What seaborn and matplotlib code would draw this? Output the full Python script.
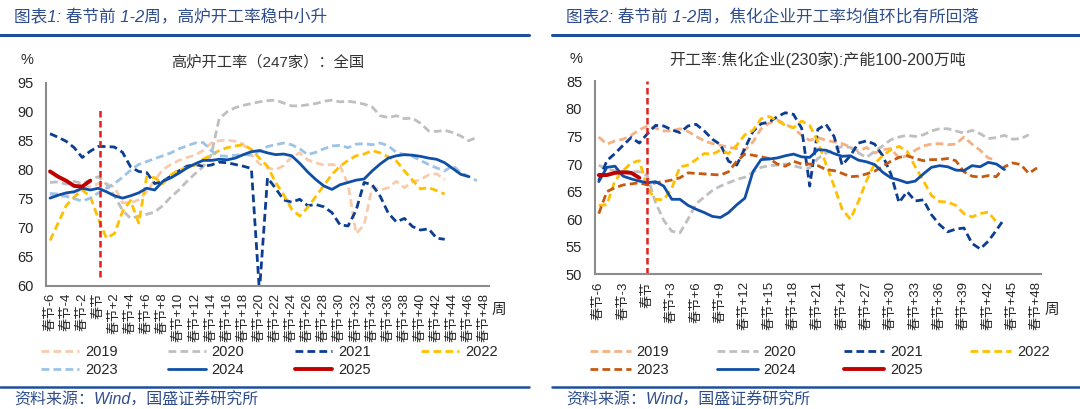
import numpy as np
import pandas as pd
import matplotlib
matplotlib.use("Agg")
import matplotlib.pyplot as plt
from matplotlib.lines import Line2D
import seaborn as sns

# ---------------- data ----------------
years = ["2019", "2020", "2021", "2022", "2023", "2024", "2025"]
first_week = -6

# 高炉开工率（247家）：全国, week -6 .. end
bf_2019 = [75.8, 75.2, 75.5, 76.1, 76.6, 77.1, 77.6, 77.6, 77.0, 74.3, 74.3, 74.8, 76.2, 78.2, 80.0,
           80.9, 81.6, 82.1, 82.5, 83.3, 84.6, 85.0, 85.1, 84.9, 84.4, 82.6, 81.0, 80.3, 80.0, 80.7,
           82.2, 82.9, 81.7, 81.2, 80.8, 80.9, 80.7, 77.5, 69.0, 70.5, 77.0, 76.5, 76.9, 78.0, 76.9,
           77.9, 78.3, 79.1, 79.3, 78.3]
bf_2020 = [77.8, 77.9, 77.5, 78.0, 77.6, 78.2, 78.8, 77.5, 75.5, 73.0, 71.6, 72.0, 72.3, 72.7, 73.8,
           75.3, 76.5, 78.0, 79.3, 80.5, 82.5, 88.8, 90.0, 90.7, 91.1, 91.4, 91.7, 91.9, 92.0, 91.5,
           91.0, 91.0, 91.2, 91.4, 91.8, 92.0, 91.7, 91.8, 91.6, 91.3, 90.8, 89.3, 89.0, 89.3, 88.8,
           88.9, 88.0, 86.7, 86.6, 86.8, 86.4, 85.8, 85.0, 85.6]
bf_2021 = [86.2, 85.6, 84.9, 83.8, 82.1, 83.2, 84.0, 84.0, 83.9, 83.0, 80.5, 79.7, 79.5, 77.6, 78.0,
           78.9, 79.8, 80.6, 80.9, 80.6, 80.8, 81.3, 81.2, 80.9, 80.6, 80.2, 59.0, 78.6, 76.8, 74.8,
           74.4, 74.9, 73.8, 74.0, 73.6, 72.6, 70.5, 70.3, 73.0, 77.8, 77.4, 75.4, 72.5, 71.0, 71.6,
           70.2, 69.6, 69.8, 68.2, 68.0]
bf_2022 = [67.8, 70.8, 73.8, 75.3, 76.5, 75.4, 71.5, 68.2, 69.0, 72.8, 74.7, 70.8, 78.8, 78.6, 77.6,
           79.1, 80.0, 80.3, 80.8, 81.8, 82.5, 83.3, 83.8, 84.1, 84.3, 83.5, 82.0, 80.6, 77.8, 75.7,
           73.2, 72.0, 73.5, 75.4, 77.3, 79.2, 80.6, 81.6, 82.4, 82.7, 83.3, 82.9, 82.2, 81.5, 79.8,
           78.2, 76.7, 76.9, 76.4, 75.8]
bf_2023 = [75.9, 75.8, 75.4, 75.0, 74.6, 75.1, 76.0, 76.8, 77.6, 78.7, 79.9, 80.9, 81.4, 81.9, 82.4,
           82.9, 83.6, 84.1, 84.6, 84.7, 83.3, 82.4, 82.3, 82.5, 82.6, 82.5, 83.2, 84.0, 84.3, 84.6,
           84.3, 83.6, 82.6, 83.0, 83.6, 84.1, 84.2, 83.8, 84.4, 84.5, 84.3, 84.6, 84.1, 83.0, 82.6,
           82.3, 81.6, 80.9, 80.3, 79.8, 80.7, 79.5, 78.8, 78.1]
bf_2024 = [75.1, 75.6, 76.0, 76.2, 76.8, 76.5, 76.8, 76.2, 75.5, 75.1, 75.5, 76.0, 76.8, 76.5, 78.0,
           78.6, 79.4, 80.3, 81.0, 81.6, 81.6, 81.8, 81.7, 82.0, 82.6, 83.1, 83.3, 82.9, 82.6, 82.7,
           82.4, 81.1, 79.6, 78.3, 77.2, 76.6, 77.4, 77.8, 78.2, 78.4, 79.8, 81.0, 82.0, 82.4, 82.6,
           82.5, 82.3, 82.0, 81.8, 81.2, 80.2, 79.2, 78.8]
bf_2025 = [79.7, 78.8, 78.1, 77.2, 77.1, 78.1]

# 开工率:焦化企业(230家):产能100-200万吨, week -6 .. end
jh_2019 = [74.9, 73.6, 74.2, 74.5, 75.2, 76.2, 76.9, 76.5, 76.0, 76.0, 76.4, 75.9, 75.0, 74.2, 73.7,
           73.4, 73.0, 72.8, 72.5, 74.0, 76.4, 77.4, 78.0, 77.2, 76.5, 75.2, 74.3, 74.8, 74.3, 74.0,
           73.7, 73.1, 72.3, 73.0, 72.0, 72.6, 72.8, 71.1, 71.5, 72.5, 73.3, 73.6, 73.7, 73.5, 73.6,
           74.9, 73.6, 72.5, 71.1, 70.7]
jh_2020 = [69.8, 69.0, 68.8, 68.7, 68.6, 68.6, 67.8, 63.0, 59.8, 57.8, 57.5, 60.0, 62.8, 64.0, 65.2,
           66.0, 66.6, 67.2, 67.6, 68.5, 69.4, 69.7, 69.8, 70.0, 69.7, 69.3, 69.3, 71.0, 72.0, 72.6,
           73.2, 73.0, 72.0, 71.2, 72.3, 73.3, 74.4, 74.9, 75.2, 75.0, 75.3, 76.0, 76.4, 76.4, 76.0,
           75.6, 76.1, 75.5, 74.6, 74.8, 75.2, 74.5, 74.6, 75.3]
jh_2021 = [67.0, 70.6, 71.9, 73.4, 74.8, 73.8, 75.5, 77.0, 76.9, 76.2, 75.7, 76.9, 77.2, 76.0, 74.5,
           73.5, 70.5, 69.8, 72.8, 75.9, 77.3, 77.6, 78.6, 79.3, 79.0, 76.5, 66.0, 76.3, 77.2, 75.0,
           69.8, 71.5, 73.8, 74.2, 73.6, 71.5, 68.2, 63.0, 65.0, 63.3, 63.5, 60.8, 59.0, 57.7, 58.2,
           58.4, 55.6, 54.6, 56.0, 58.0, 60.1]
jh_2022 = [62.5, 62.6, 67.0, 68.8, 70.2, 70.6, 65.6, 63.6, 63.5, 65.6, 69.5, 69.8, 70.8, 71.9, 71.8,
           72.5, 71.9, 73.4, 75.3, 76.1, 78.2, 78.6, 77.9, 77.0, 76.6, 77.8, 77.0, 74.0, 70.0, 66.0,
           61.8, 60.0, 63.2, 67.0, 70.1, 71.5, 72.6, 73.2, 72.3, 69.5, 67.0, 64.3, 63.2, 63.1, 62.5,
           61.0, 60.4, 61.0, 61.3, 59.5]
jh_2023 = [61.0, 65.0, 65.7, 66.2, 66.4, 66.6, 66.2, 66.6, 66.8, 67.1, 67.5, 68.4, 68.3, 68.2, 68.1,
           68.0, 68.6, 70.5, 71.8, 71.6, 71.3, 71.0, 70.0, 69.6, 70.5, 70.0, 70.0, 69.7, 69.0, 68.8,
           68.3, 67.7, 67.8, 68.2, 68.7, 69.6, 70.5, 71.2, 71.5, 71.0, 70.6, 70.8, 70.8, 71.0, 70.6,
           68.6, 67.8, 67.6, 67.9, 67.7, 69.5, 70.2, 69.9, 68.3, 69.3]
jh_2024 = [66.8, 69.4, 69.6, 67.8, 67.3, 66.9, 66.6, 66.8, 66.0, 63.6, 63.6, 62.5, 61.8, 61.2, 60.5,
           60.3, 61.2, 62.6, 63.8, 68.6, 70.8, 70.9, 71.1, 71.5, 71.8, 71.3, 71.2, 72.6, 72.5, 71.9,
           71.4, 71.5, 70.7, 70.4, 69.9, 68.5, 67.5, 67.1, 66.6, 66.9, 68.2, 69.4, 69.7, 69.5, 68.9,
           68.8, 69.7, 69.5, 70.3, 70.0, 69.0]
jh_2025 = [68.0, 68.0, 68.4, 68.5, 68.4, 67.5]

# 春节 marker line (week, y-range)
spring_left = (0.2, 61.5, 90.8)
spring_right = (0.0, 50.0, 85.0)

left_title = "高炉开工率（247家）：全国"
right_title = "开工率:焦化企业(230家):产能100-200万吨"
left_header = "图表1: 春节前 1-2周，高炉开工率稳中小升"
right_header = "图表2: 春节前 1-2周，焦化企业开工率均值环比有所回落"
source = "资料来源：Wind，国盛证券研究所"

# ---------------- style ----------------
sns.set_theme(style="white")
plt.rcParams["font.family"] = ["Liberation Sans", "Noto Sans CJK SC", "DejaVu Sans"]

DASH = (0, (2.8, 1.5))
left_styles = {
    "2019": ("#f8cbad", DASH, 2.0),
    "2020": ("#bfbfbf", DASH, 2.0),
    "2021": ("#0b3d91", DASH, 2.0),
    "2022": ("#ffc000", DASH, 2.0),
    "2023": ("#9dc3e6", DASH, 2.0),
    "2024": ("#0f4fa8", "-", 2.0),
    "2025": ("#c00000", "-", 2.8),
}
right_styles = dict(left_styles)
right_styles["2019"] = ("#f4b183", DASH, 2.0)
right_styles["2023"] = ("#c55a11", DASH, 2.0)

HEAD_C = "#2e4d8c"
fig = plt.figure(figsize=(10.8, 4.09), dpi=100)
W, H = 1080, 409


def fx(px):
    return px / W


def fy(py):
    return 1 - py / H


def panel(rect, series, styles, yticks, xstep, title, title_fs, spring, pct_xy,
          zhou_xy, leg_xy, hl, cs):
    ax = fig.add_axes(rect)
    handles = []
    for yr, vals in zip(years, series):
        c, ls, lw = styles[yr]
        wk = np.arange(first_week, first_week + len(vals))
        sns.lineplot(x=wk, y=vals, ax=ax, color=c, linestyle=ls, linewidth=lw,
                     estimator=None, errorbar=None, sort=False, legend=False)
        ln = ax.lines[-1]
        ln.set_label(yr)
        handles.append(ln)
    sw, lo, hi = spring
    ax.plot([sw, sw], [lo, hi], color="#e3201b", linewidth=1.8,
            linestyle=(0, (2.6, 1.4)))

    ax.set_xlim(-6.5, 48.5)
    ax.set_ylim(yticks[0], yticks[-1])
    ax.set_yticks(yticks)
    xt = list(range(-6, 49, xstep))
    ax.set_xticks(xt)
    ax.set_xticklabels(["春节" if w == 0 else f"春节{w:+d}" for w in xt],
                       rotation=90, fontsize=9.5)
    ax.tick_params(axis="x", length=0, pad=5, colors="#262626")
    ax.tick_params(axis="y", direction="in", length=4, width=1, color="#808080",
                   labelsize=10.5, pad=9, labelcolor="#262626")
    for s in ["top", "right"]:
        ax.spines[s].set_visible(False)
    for s in ["left", "bottom"]:
        ax.spines[s].set_color("#8c8c8c")
        ax.spines[s].set_linewidth(1.5)
    ax.set_xlabel("")
    ax.set_ylabel("")
    ax.set_title(title, fontsize=title_fs, color="#333333", pad=12)

    fig.text(fx(pct_xy[0]), fy(pct_xy[1]), "%", fontsize=10.5, ha="center",
             va="center", color="#262626")
    fig.text(fx(zhou_xy[0]), fy(zhou_xy[1]), "周", fontsize=10.5, ha="left",
             va="center", color="#262626")

    order = [0, 4, 1, 5, 2, 6, 3]
    ax.legend([handles[i] for i in order], [years[i] for i in order], ncol=4,
              loc="upper left", bbox_to_anchor=(fx(leg_xy[0]), fy(leg_xy[1])),
              bbox_transform=fig.transFigure, frameon=False, fontsize=10.5,
              handlelength=hl, handletextpad=0.4, columnspacing=cs,
              labelspacing=0.25, borderpad=0, borderaxespad=0)
    return ax


panel([fx(46), fy(285.7), fx(489 - 46), (285.7 - 82.7) / H],
      [bf_2019, bf_2020, bf_2021, bf_2022, bf_2023, bf_2024, bf_2025],
      left_styles, list(range(60, 96, 5)), 2, left_title, 11, spring_left,
      (27, 60), (492, 310), (41, 345), 2.6, 3.45)
panel([fx(594.7), fy(274.3), fx(1041 - 594.7), (274.3 - 81.3) / H],
      [jh_2019, jh_2020, jh_2021, jh_2022, jh_2023, jh_2024, jh_2025],
      right_styles, list(range(50, 86, 5)), 3, right_title, 11.5, spring_right,
      (576, 59), (1045, 310), (590, 345), 2.8, 3.25)

# header / footer decorations
for x0, x1, tx, head in [(0, 529, 14, left_header), (552, 1080, 566, right_header)]:
    fig.add_artist(Line2D([fx(x0), fx(x1)], [fy(35), fy(35)], color="#1f4e9a",
                          linewidth=2.2, transform=fig.transFigure))
    fig.add_artist(Line2D([fx(x0), fx(x1)], [fy(387), fy(387)], color="#1f4e9a",
                          linewidth=1.8, transform=fig.transFigure))
    fig.text(fx(tx), fy(17), head, fontsize=12, color=HEAD_C, style="italic",
             ha="left", va="center")
    fig.text(fx(tx), fy(400), source, fontsize=11.5, color=HEAD_C, style="italic",
             ha="left", va="center")

fig.savefig("out.png", dpi=100)
